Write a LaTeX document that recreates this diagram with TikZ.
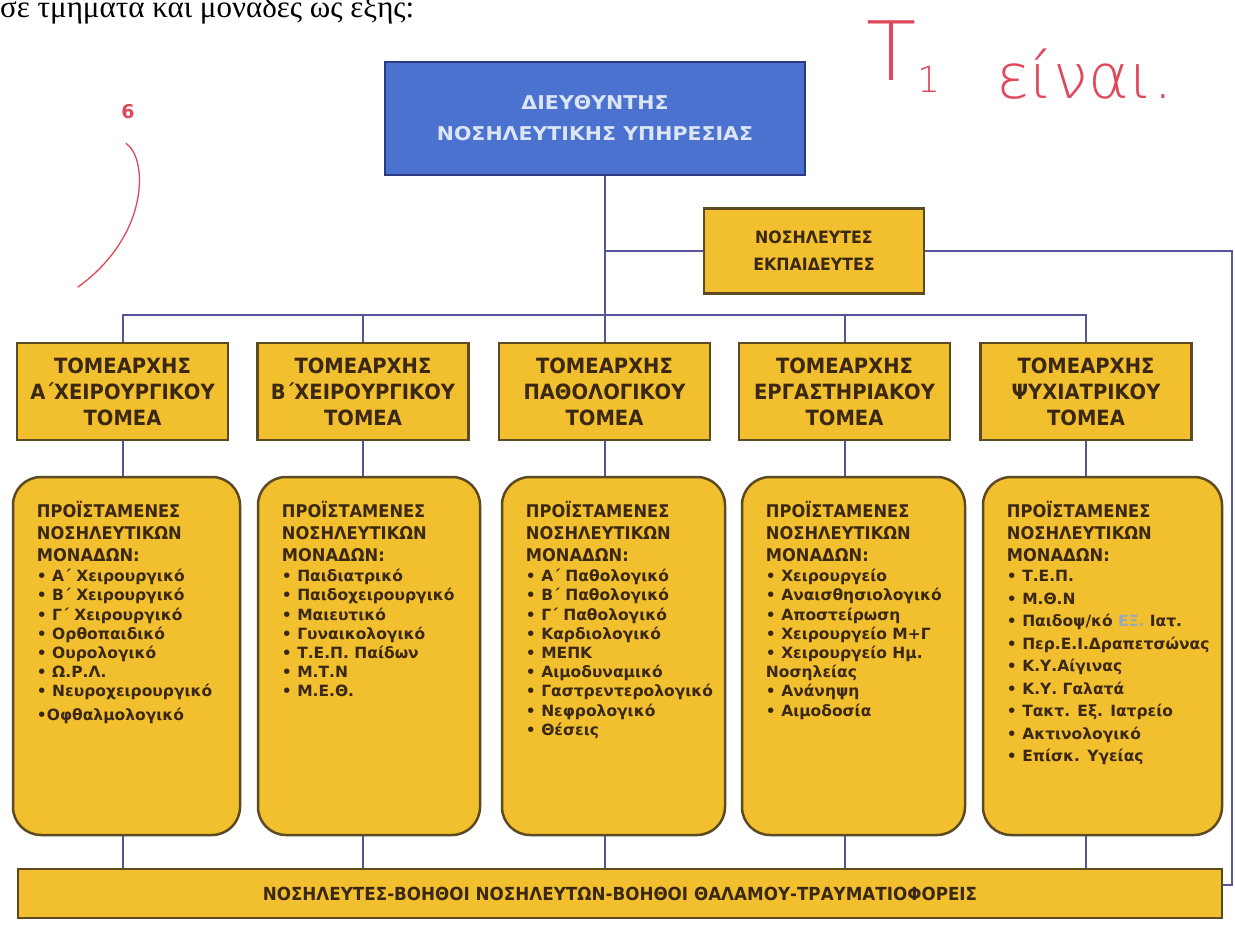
\documentclass[tikz,border=0pt]{standalone}
\usepackage{fontspec}
\setmainfont{DejaVu Sans}
\newfontfamily\hfont{DejaVu Sans}[FakeStretch=0.93]
\newfontfamily\wfont{DejaVu Sans}[FakeStretch=1.08]
\newfontfamily\ifont{DejaVu Sans}
\newfontfamily\serifgr{Liberation Serif}
\IfFontExistsTF{DejaVu Sans ExtraLight}{\newfontfamily\hand{DejaVu Sans ExtraLight}}{\newfontfamily\hand{DejaVu Sans}}
\usetikzlibrary{calc}
\definecolor{gold}{HTML}{F2C02E}
\definecolor{goldedge}{HTML}{5C4A22}
\definecolor{ink}{HTML}{3A2812}
\definecolor{royal}{HTML}{4C72CF}
\definecolor{royaledge}{HTML}{2C3A85}
\definecolor{paleblue}{HTML}{DCE5F5}
\definecolor{wire}{HTML}{55569A}
\definecolor{pen}{HTML}{E0485A}
\definecolor{smudge}{HTML}{9AA8C0}
\tikzset{
  conn/.style={draw=wire, line width=2pt},
  tbox/.style={draw=goldedge, fill=gold, line width=2.5pt, minimum width=211pt, minimum height=97pt, inner sep=0pt, align=center, text=ink, font=\hfont\bfseries\fontsize{21}{26}\selectfont},
  lbox/.style={draw=goldedge, fill=gold, line width=2.5pt, rounded corners=28pt, minimum height=358pt, inner sep=0pt},
  headtxt/.style={anchor=base west, inner sep=0pt, text=ink, font=\hfont\bfseries\fontsize{17.5}{17}\selectfont},
  itemtxt/.style={anchor=base west, inner sep=0pt, text=ink, font=\ifont\bfseries\fontsize{15.5}{16}\selectfont},
}
\newcommand\placelist[4]{%
  \foreach \txt [count=\i] in {#4} {
    \node[itemtxt] (#1-\i) at ($(#1.north west)+(25,#2+#3*\i-#3)$) {\txt};
  }}
\begin{document}
\begin{tikzpicture}[x=1pt,y=-1pt]
\useasboundingbox (0,0) rectangle (1235,945);
\fill[white] (0,0) rectangle (1235,945);

% intro text (clipped at top)
\node[anchor=base west, inner sep=0pt, font=\serifgr\fontsize{31}{31}\selectfont] (intro) at (0,17) {σε τμήματα και μονάδες ως εξής:};

% handwriting
\node[anchor=base west, inner sep=0pt, text=pen, font=\hand\fontsize{82}{82}\selectfont] (tee) at (866,80) {T\kern 1pt\raisebox{-12pt}{\fontsize{36}{36}\selectfont 1}};
\node[anchor=base west, inner sep=0pt, text=pen, font=\hand\fontsize{62}{62}\selectfont] (einai) at (996,98) {είναι.};
\node[text=pen, inner sep=0pt, font=\ifont\bfseries\fontsize{19}{19}\selectfont] (six) at (128,112) {6};
\draw[pen, line width=1.3pt, line cap=round] ($(six.south)+(-2,24)$) .. controls (148,158) and (150,235) .. (78,287);

% boxes
\node[draw=royaledge, fill=royal, line width=2.5pt, minimum width=420pt, minimum height=113pt, inner sep=0pt, align=center, text=paleblue, font=\wfont\bfseries\fontsize{19}{31}\selectfont] (dir) at (595,118.5) {ΔΙΕΥΘΥΝΤΗΣ\\ΝΟΣΗΛΕΥΤΙΚΗΣ ΥΠΗΡΕΣΙΑΣ};
\node[tbox, minimum width=220pt, minimum height=85pt, font=\hfont\bfseries\fontsize{17}{27}\selectfont] (edu) at (814,251) {ΝΟΣΗΛΕΥΤΕΣ\\ΕΚΠΑΙΔΕΥΤΕΣ};

\node[tbox] (t1) at (122.5,391.5) {ΤΟΜΕΑΡΧΗΣ\\Α΄ΧΕΙΡΟΥΡΓΙΚΟΥ\\ΤΟΜΕΑ};
\node[tbox] (t2) at (363,391.5) {ΤΟΜΕΑΡΧΗΣ\\Β΄ΧΕΙΡΟΥΡΓΙΚΟΥ\\ΤΟΜΕΑ};
\node[tbox] (t3) at (604.5,391.5) {ΤΟΜΕΑΡΧΗΣ\\ΠΑΘΟΛΟΓΙΚΟΥ\\ΤΟΜΕΑ};
\node[tbox] (t4) at (844.5,391.5) {ΤΟΜΕΑΡΧΗΣ\\ΕΡΓΑΣΤΗΡΙΑΚΟΥ\\ΤΟΜΕΑ};
\node[tbox] (t5) at (1086,391.5) {ΤΟΜΕΑΡΧΗΣ\\ΨΥΧΙΑΤΡΙΚΟΥ\\ΤΟΜΕΑ};

\node[lbox, minimum width=227pt] (l1) at (126.5,656) {};
\node[lbox, minimum width=222pt] (l2) at (369,656) {};
\node[lbox, minimum width=223pt] (l3) at (613.5,656) {};
\node[lbox, minimum width=223pt] (l4) at (853.5,656) {};
\node[lbox, minimum width=239pt] (l5) at (1102.5,656) {};

\node[draw=goldedge, fill=gold, line width=2.5pt, minimum width=1204pt, minimum height=49pt, inner sep=0pt, text=ink, font=\hfont\bfseries\fontsize{18}{18}\selectfont] (bar) at (620,893.5) {ΝΟΣΗΛΕΥΤΕΣ-ΒΟΗΘΟΙ ΝΟΣΗΛΕΥΤΩΝ-ΒΟΗΘΟΙ ΘΑΛΑΜΟΥ-ΤΡΑΥΜΑΤΙΟΦΟΡΕΙΣ};

% connectors
\coordinate (bus) at (0,315);
\coordinate (rt) at (1232,251);
\coordinate (rb) at (1232,885);
\draw[conn] (dir.south -| t3.north) -- (t3.north);
\draw[conn] (t1.north) -- (t1.north |- bus) -- (t5.north |- bus) -- (t5.north);
\foreach \t in {t2,t4} \draw[conn] (\t.north) -- (\t.north |- bus);
\draw[conn] (edu.west) -- (edu.west -| t3.north);
\draw[conn] (edu.east) -- (rt) -- (rb) -- (rb -| bar.east);
\foreach \t/\l in {t1/l1,t2/l2,t3/l3,t4/l4,t5/l5} {
  \draw[conn] (\t.south) -- (\t.south |- \l.north);
  \draw[conn] (\t.south |- \l.south) -- (\t.south |- bar.north);
}

% list headings
\foreach \b in {l1,l2,l3,l4,l5} {
  \foreach \txt [count=\i] in {ΠΡΟΪΣΤΑΜΕΝΕΣ,ΝΟΣΗΛΕΥΤΙΚΩΝ,ΜΟΝΑΔΩΝ:} {
    \node[headtxt] (\b-h\i) at ($(\b.north west)+(25,20+22*\i)$) {\txt};
  }
}

% list items
\placelist{l1}{106}{19.2}{• Α΄ Χειρουργικό,• Β΄ Χειρουργικό,• Γ΄ Χειρουργικό,• Ορθοπαιδικό,• Ουρολογικό,• Ω.Ρ.Λ.,• Νευροχειρουργικό}
\node[itemtxt] (l1-8) at ($(l1.north west)+(25,245)$) {•Οφθαλμολογικό};
\placelist{l2}{106}{19.2}{• Παιδιατρικό,• Παιδοχειρουργικό,• Μαιευτικό,• Γυναικολογικό,• Τ.Ε.Π. Παίδων,• Μ.Τ.Ν,• Μ.Ε.Θ.}
\placelist{l3}{106}{19.2}{• Α΄ Παθολογικό,• Β΄ Παθολογικό,• Γ΄ Παθολογικό,• Καρδιολογικό,• ΜΕΠΚ,• Αιμοδυναμικό,• Γαστρεντερολογικό,• Νεφρολογικό,• Θέσεις}
\placelist{l4}{106}{19.2}{• Χειρουργείο,• Αναισθησιολογικό,• Αποστείρωση,• Χειρουργείο Μ+Γ,• Χειρουργείο Ημ.,Νοσηλείας,• Ανάνηψη,• Αιμοδοσία}
\placelist{l5}{106}{22.5}{• Τ.Ε.Π.,• Μ.Θ.Ν,• Παιδοψ/κό {\color{smudge}ΕΞ.} Ιατ.,• Περ.Ε.Ι.Δραπετσώνας,• Κ.Υ.Αίγινας,• Κ.Υ. Γαλατά,• Τακτ. Εξ. Ιατρείο,• Ακτινολογικό,• Επίσκ. Υγείας}
\end{tikzpicture}
\end{document}
